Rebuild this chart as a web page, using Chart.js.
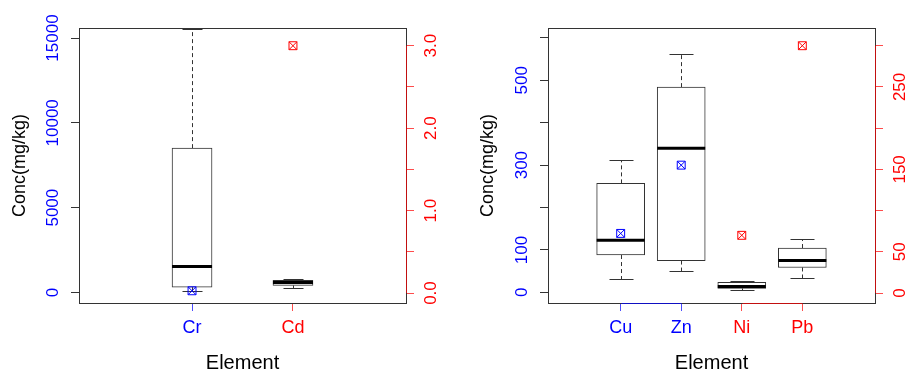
<!DOCTYPE html>
<html>
<head>
<meta charset="utf-8">
<script src="https://cdn.jsdelivr.net/npm/chart.js@4.4.1/dist/chart.umd.min.js"></script>
<style>
  html, body { margin: 0; padding: 0; background: #fff; }
  #wrap { position: relative; width: 907px; height: 371px; }
  canvas { position: absolute; top: 0; }
  #chart1 { left: 0; }
  #chart2 { left: 453px; }
</style>
</head>
<body>
<div id="wrap">
  <canvas id="chart1" width="453" height="371"></canvas>
  <canvas id="chart2" width="454" height="371"></canvas>
</div>
<script>
// ---- panel 1: Cr (left axis) and Cd (right axis) ----
const p1Elements = ['Cr', 'Cd'];
const p1Side = ['left', 'right'];
const p1Min = [80, 0.061];
const p1Q1 = [315, 0.092];
const p1Median = [1530, 0.129];
const p1Q3 = [8510, 0.153];
const p1Max = [15530, 0.165];
const p1Marks = [100, 3.0];
const p1LeftTicks = [0, 5000, 10000, 15000];
const p1LeftLabels = ['0', '5000', '10000', '15000'];
const p1RightTicks = [0, 0.5, 1, 1.5, 2, 2.5, 3];
const p1RightLabels = ['0.0', '', '1.0', '', '2.0', '', '3.0'];

// ---- panel 2: Cu, Zn (left axis) and Ni, Pb (right axis) ----
const p2Elements = ['Cu', 'Zn', 'Ni', 'Pb'];
const p2Side = ['left', 'left', 'right', 'right'];
const p2Min = [31, 50, 3.2, 18.2];
const p2Q1 = [88, 75, 5.6, 31];
const p2Median = [123, 340, 8.0, 39.6];
const p2Q3 = [257, 484, 12.9, 54.6];
const p2Max = [312, 563, 14.1, 65.5];
const p2Marks = [139, 300, 70, 300];
const p2LeftTicks = [0, 100, 200, 300, 400, 500, 600];
const p2LeftLabels = ['0', '100', '', '300', '', '500', ''];
const p2RightTicks = [0, 50, 100, 150, 200, 250, 300];
const p2RightLabels = ['0', '50', '', '150', '', '250', ''];

const BLUE = '#0000FF';
const RED = '#FF0000';
const BLUE_LINE = 'rgba(0, 0, 255, 0.7)';
const RED_LINE = 'rgba(255, 0, 0, 0.7)';
const FRAME = '#333';

Chart.defaults.font.family = "'Liberation Sans', Arial, sans-serif";
Chart.defaults.color = '#000';

function buildPanel(canvasId, p) {
    const axisOf = i => p.side[i] === 'left' ? 'y' : 'y1';
    const colorOf = i => p.side[i] === 'left' ? BLUE : RED;
    const lineColorOf = i => p.side[i] === 'left' ? BLUE_LINE : RED_LINE;

    const datasets = [];
    p.elements.forEach((el, i) => {
        // box (Q1..Q3) as floating bar
        datasets.push({
            type: 'bar',
            label: el,
            yAxisID: axisOf(i),
            data: [{ x: i + 1, y: [p.q1[i], p.q3[i]] }],
            backgroundColor: '#fff',
            borderColor: FRAME,
            borderWidth: 1,
            borderSkipped: false,
            barThickness: p.boxWidth,
            grouped: false,
            order: 3
        });
        // square with a cross marker
        ['rect', 'crossRot'].forEach(style => {
            datasets.push({
                type: 'scatter',
                label: el + ' mark',
                yAxisID: axisOf(i),
                data: [{ x: i + 1, y: p.marks[i] }],
                pointStyle: style,
                pointRadius: 5.6,
                pointBorderWidth: 1,
                pointBorderColor: colorOf(i),
                pointBackgroundColor: 'rgba(0,0,0,0)',
                order: 1
            });
        });
    });

    const boxParts = {
        id: 'boxParts' + canvasId,
        beforeDatasetsDraw(chart) {
            const ctx = chart.ctx;
            const xs = chart.scales.x;
            ctx.save();
            ctx.strokeStyle = FRAME;
            ctx.lineWidth = 1;
            p.elements.forEach((el, i) => {
                const ys = chart.scales[axisOf(i)];
                const x = Math.round(xs.getPixelForValue(i + 1)) + 0.5;
                const half = p.boxWidth / 4;
                // dashed whiskers
                ctx.setLineDash([4, 3]);
                ctx.beginPath();
                ctx.moveTo(x, ys.getPixelForValue(p.q3[i]));
                ctx.lineTo(x, ys.getPixelForValue(p.max[i]));
                ctx.moveTo(x, ys.getPixelForValue(p.q1[i]));
                ctx.lineTo(x, ys.getPixelForValue(p.min[i]));
                ctx.stroke();
                // caps
                ctx.setLineDash([]);
                ctx.beginPath();
                const yMax = Math.round(ys.getPixelForValue(p.max[i])) + 0.5;
                const yMin = Math.round(ys.getPixelForValue(p.min[i])) + 0.5;
                ctx.moveTo(x - half, yMax);
                ctx.lineTo(x + half, yMax);
                ctx.moveTo(x - half, yMin);
                ctx.lineTo(x + half, yMin);
                ctx.stroke();
            });
            ctx.restore();
        },
        afterDatasetsDraw(chart) {
            const ctx = chart.ctx;
            const xs = chart.scales.x;
            const area = chart.chartArea;
            ctx.save();
            // medians
            ctx.strokeStyle = '#000';
            ctx.lineWidth = 3;
            p.elements.forEach((el, i) => {
                const ys = chart.scales[axisOf(i)];
                const x = xs.getPixelForValue(i + 1);
                const y = ys.getPixelForValue(p.median[i]);
                ctx.beginPath();
                ctx.moveTo(x - p.boxWidth / 2, y);
                ctx.lineTo(x + p.boxWidth / 2, y);
                ctx.stroke();
            });
            // frame
            ctx.lineWidth = 1;
            ctx.strokeStyle = FRAME;
            ctx.strokeRect(Math.round(area.left) + 0.5, Math.round(area.top) + 0.5,
                Math.round(area.right - area.left), Math.round(area.bottom - area.top));
            // right axis line
            const yr = chart.scales.y1;
            const xr = Math.round(area.right) + 0.5;
            ctx.strokeStyle = RED_LINE;
            ctx.beginPath();
            ctx.moveTo(xr, yr.getPixelForValue(p.rightTicks[0]));
            ctx.lineTo(xr, yr.getPixelForValue(p.rightTicks[p.rightTicks.length - 1]));
            ctx.stroke();
            // colored x axis segments, one per side group
            const yb = Math.round(area.bottom) + 0.5;
            ['left', 'right'].forEach(side => {
                const idx = p.side.map((s, i) => s === side ? i : -1).filter(i => i >= 0);
                if (idx.length < 2) return;
                ctx.strokeStyle = side === 'left' ? BLUE_LINE : RED_LINE;
                ctx.beginPath();
                ctx.moveTo(Math.round(xs.getPixelForValue(idx[0] + 1)) + 0.5, yb);
                ctx.lineTo(Math.round(xs.getPixelForValue(idx[idx.length - 1] + 1)) + 0.5, yb);
                ctx.stroke();
            });
            ctx.restore();
        }
    };

    return new Chart(document.getElementById(canvasId), {
        type: 'bar',
        data: { datasets: datasets },
        plugins: [boxParts],
        options: {
            responsive: false,
            animation: false,
            layout: { padding: { top: 28, left: 0, right: 0, bottom: 0 } },
            plugins: { legend: { display: false }, tooltip: { enabled: false } },
            scales: {
                x: {
                    type: 'linear',
                    min: p.xMin,
                    max: p.xMax,
                    offset: false,
                    afterBuildTicks: s => { s.ticks = p.elements.map((e, i) => ({ value: i + 1 })); },
                    afterFit: s => { s.height = 68; },
                    border: { display: false },
                    grid: {
                        offset: false,
                        drawOnChartArea: false,
                        tickLength: 8,
                        tickColor: c => lineColorOf(c.index)
                    },
                    ticks: {
                        autoSkip: false,
                        maxRotation: 0,
                        padding: 6.5,
                        font: { size: 18 },
                        color: c => colorOf(c.index),
                        callback: (v, i) => p.elements[i]
                    },
                    title: {
                        display: true,
                        text: 'Element',
                        color: '#000',
                        font: { size: 20 },
                        padding: { top: 0, bottom: -4 }
                    }
                },
                y: {
                    position: 'left',
                    min: p.leftMin,
                    max: p.leftMax,
                    afterBuildTicks: s => { s.ticks = p.leftTicks.map(v => ({ value: v })); },
                    afterFit: s => { s.width = p.leftWidth; },
                    border: { display: false },
                    grid: { drawOnChartArea: false, tickLength: 8, tickColor: FRAME },
                    ticks: {
                        autoSkip: false,
                        minRotation: 90,
                        maxRotation: 90,
                        crossAlign: 'center',
                        padding: p.leftPad,
                        color: BLUE,
                        font: { size: 17 },
                        callback: (v, i) => p.leftLabels[i]
                    },
                    title: {
                        display: true,
                        text: 'Conc(mg/kg)',
                        color: '#000',
                        font: { size: 18 },
                        padding: { top: p.titlePad, bottom: 0 }
                    }
                },
                y1: {
                    position: 'right',
                    min: p.rightMin,
                    max: p.rightMax,
                    afterBuildTicks: s => { s.ticks = p.rightTicks.map(v => ({ value: v })); },
                    afterFit: s => { s.width = p.rightWidth; },
                    border: { display: false },
                    grid: { drawOnChartArea: false, tickLength: 8, tickColor: RED_LINE },
                    ticks: {
                        autoSkip: false,
                        minRotation: 90,
                        maxRotation: 90,
                        crossAlign: 'center',
                        padding: p.rightPad,
                        color: RED,
                        font: { size: 17 },
                        callback: (v, i) => p.rightLabels[i]
                    }
                }
            }
        }
    });
}

buildPanel('chart1', {
    elements: p1Elements, side: p1Side,
    min: p1Min, q1: p1Q1, median: p1Median, q3: p1Q3, max: p1Max, marks: p1Marks,
    leftTicks: p1LeftTicks, leftLabels: p1LeftLabels,
    rightTicks: p1RightTicks, rightLabels: p1RightLabels,
    xMin: -0.12, xMax: 3.12,
    leftMin: -620, leftMax: 15590,
    rightMin: -0.121, rightMax: 3.215,
    boxWidth: 40,
    leftWidth: 79, rightWidth: 47,
    leftPad: -6, rightPad: 5.8, titlePad: 8.8
});

buildPanel('chart2', {
    elements: p2Elements, side: p2Side,
    min: p2Min, q1: p2Q1, median: p2Median, q3: p2Q3, max: p2Max, marks: p2Marks,
    leftTicks: p2LeftTicks, leftLabels: p2LeftLabels,
    rightTicks: p2RightTicks, rightLabels: p2RightLabels,
    xMin: -0.2, xMax: 5.2,
    leftMin: -25.1, leftMax: 623.4,
    rightMin: -12.1, rightMax: 321.5,
    boxWidth: 48,
    leftWidth: 95, rightWidth: 32,
    leftPad: 4, rightPad: 2.9, titlePad: 24.5
});
</script>
</body>
</html>
